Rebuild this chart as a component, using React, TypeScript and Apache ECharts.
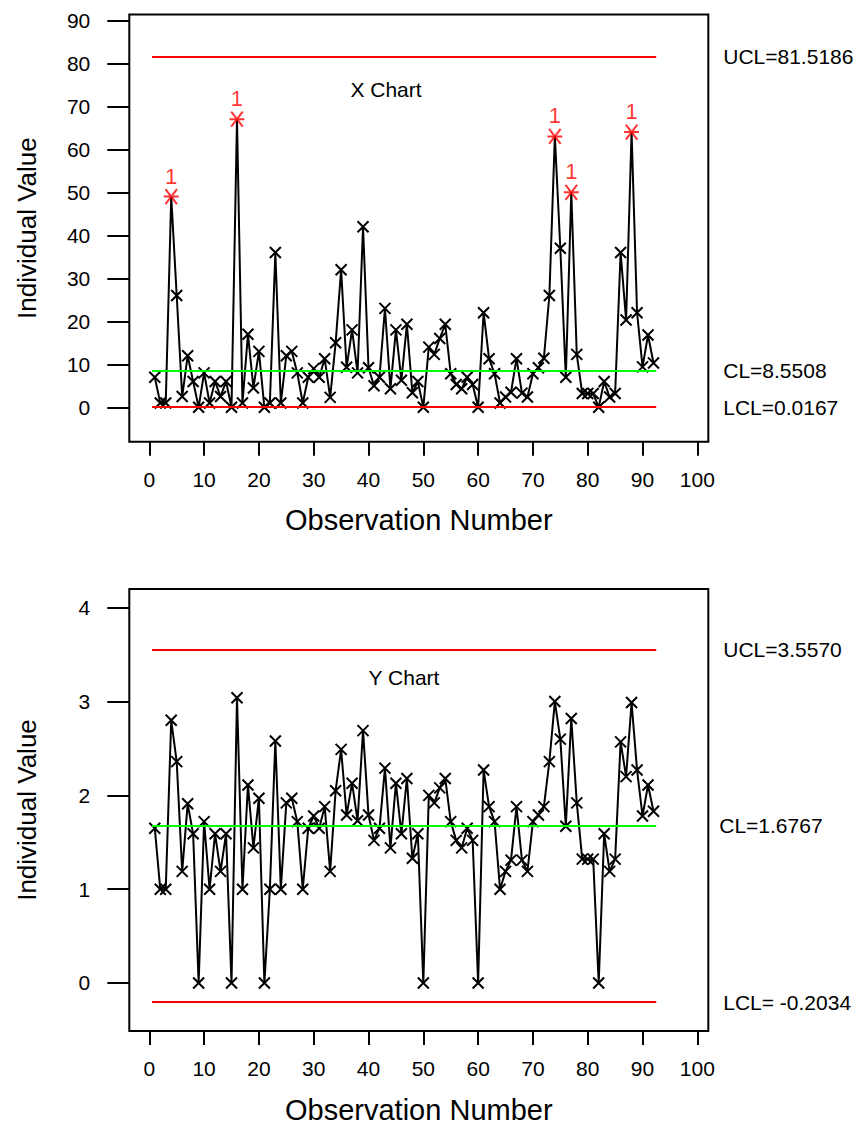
import React, { useEffect, useRef } from "react";
import * as echarts from "echarts";

// ---------- data ----------
const X_VALUES = [
  7, 1, 1, 49, 26, 2.5, 12, 6, 0, 8,
  1, 6, 2.5, 6, 0, 67, 1, 17, 4.5, 13,
  0, 1, 36, 1, 12, 13, 8, 1, 7, 9,
  7, 11.3, 2.3, 15, 32, 9.3, 18, 8, 42, 9.2,
  5, 7, 23, 4.3, 18, 6.3, 19.3, 3.4, 6, 0,
  14, 12.3, 16, 19.3, 7.8, 5.3, 4.3, 7, 5.3, 0,
  22, 11.3, 7.8, 1, 2.4, 3.5, 11.3, 3.3, 2.4, 7.8,
  9.2, 11.4, 26, 63, 37, 7, 50, 12.3, 3.2, 3.2,
  3.2, 0, 6, 2.4, 3.2, 36, 20.3, 64, 22, 9.4,
  16.8, 10.3,
];
const X_FLAGGED = [4, 16, 74, 77, 88];

const Y_VALUES = [
  1.65, 1, 1, 2.8, 2.36, 1.19, 1.91, 1.59, 0, 1.72,
  1, 1.59, 1.19, 1.59, 0, 3.04, 1, 2.11, 1.44, 1.97,
  0, 1, 2.58, 1, 1.92, 1.97, 1.72, 1, 1.65, 1.78,
  1.65, 1.88, 1.19, 2.05, 2.49, 1.79, 2.13, 1.73, 2.69, 1.79,
  1.52, 1.65, 2.29, 1.44, 2.13, 1.59, 2.18, 1.33, 1.59, 0,
  2.0, 1.92, 2.08, 2.18, 1.72, 1.52, 1.44, 1.65, 1.52, 0,
  2.27, 1.88, 1.72, 1, 1.19, 1.31, 1.88, 1.31, 1.19, 1.72,
  1.79, 1.88, 2.36, 3.0, 2.6, 1.67, 2.82, 1.92, 1.32, 1.32,
  1.32, 0, 1.59, 1.19, 1.32, 2.57, 2.2, 2.99, 2.27, 1.78,
  2.11, 1.83,
];

const X_UCL = 81.5186;
const X_CL = 8.5508;
const X_LCL = 0.0167;
const Y_UCL = 3.557;
const Y_CL = 1.6767;
const Y_LCL = -0.2034;

const LIMIT_START = 0.5;
const LIMIT_END = 92.5;

const OBS_TICKS = [0, 10, 20, 30, 40, 50, 60, 70, 80, 90, 100];
const X_CHART_TICKS = [0, 10, 20, 30, 40, 50, 60, 70, 80, 90];
const Y_CHART_TICKS = [0, 1, 2, 3, 4];

const X_LIMIT_LABELS = ["UCL=81.5186", "CL=8.5508", "LCL=0.0167"];
const Y_LIMIT_LABELS = ["UCL=3.5570", "CL=1.6767", "LCL= -0.2034"];

// ---------- styling ----------
const FONT = "Liberation Sans, Arial, sans-serif";
const RED = "#ff0000";
const GREEN = "#00ff00";
const CROSS = "path://M0,0L10,10M10,0L0,10";
const STAR = "path://M0,0L10,10M10,0L0,10M-1.5,5L11.5,5";

function xAxisFor(gridIndex: number) {
  return {
    gridIndex,
    type: "value",
    min: -3.65,
    max: 102,
    axisLine: { show: false, onZero: false },
    splitLine: { show: false },
    axisTick: {
      show: true,
      length: 14,
      customValues: OBS_TICKS,
      lineStyle: { color: "#000", width: 2 },
    },
    axisLabel: {
      customValues: OBS_TICKS,
      margin: 27,
      color: "#000",
      fontSize: 21,
      fontFamily: FONT,
    },
    name: "Observation Number",
    nameLocation: "middle",
    nameGap: 64,
    nameTextStyle: { color: "#000", fontSize: 29, fontFamily: FONT },
  };
}

function yAxisFor(gridIndex: number, min: number, max: number, ticks: number[]) {
  return {
    gridIndex,
    type: "value",
    min,
    max,
    axisLine: { show: false, onZero: false },
    splitLine: { show: false },
    axisTick: {
      show: true,
      length: 22,
      customValues: ticks,
      lineStyle: { color: "#000", width: 2 },
    },
    axisLabel: {
      customValues: ticks,
      margin: 39,
      color: "#000",
      fontSize: 21,
      fontFamily: FONT,
    },
    name: "Individual Value",
    nameLocation: "middle",
    nameGap: 89,
    nameTextStyle: { color: "#000", fontSize: 26, fontFamily: FONT },
  };
}

function limitSeries(
  idx: number,
  ucl: number,
  cl: number,
  lcl: number,
  labels: string[],
  clDistance: number
) {
  const lbl = (text: string, d: number) => ({
    show: true,
    position: "end",
    distance: d,
    formatter: text,
    color: "#000",
    fontSize: 21,
    fontFamily: FONT,
  });
  return {
    type: "line",
    xAxisIndex: idx,
    yAxisIndex: idx,
    data: [],
    z: 1,
    silent: true,
    markLine: {
      silent: true,
      symbol: ["none", "none"],
      animation: false,
      data: [
        [
          { coord: [LIMIT_START, ucl], lineStyle: { color: RED, width: 2, type: "solid" }, label: lbl(labels[0], 67) },
          { coord: [LIMIT_END, ucl] },
        ],
        [
          { coord: [LIMIT_START, cl], lineStyle: { color: GREEN, width: 2, type: "solid" }, label: lbl(labels[1], clDistance) },
          { coord: [LIMIT_END, cl] },
        ],
        [
          { coord: [LIMIT_START, lcl], lineStyle: { color: RED, width: 2, type: "solid" }, label: lbl(labels[2], 67) },
          { coord: [LIMIT_END, lcl] },
        ],
      ],
    },
  };
}

function dataSeries(idx: number, values: number[], flagged: number[]) {
  return {
    type: "line",
    xAxisIndex: idx,
    yAxisIndex: idx,
    z: 3,
    symbol: CROSS,
    symbolSize: 11,
    lineStyle: { color: "#000", width: 2 },
    itemStyle: { color: "#000", borderColor: "#000", borderWidth: 2 },
    data: values.map((v, i) =>
      flagged.includes(i + 1) ? { value: [i + 1, v], symbol: "none" } : [i + 1, v]
    ),
  };
}

function flaggedSeries(idx: number, values: number[], flagged: number[]) {
  return {
    type: "scatter",
    xAxisIndex: idx,
    yAxisIndex: idx,
    z: 4,
    symbol: STAR,
    symbolSize: 15,
    itemStyle: { color: RED, borderColor: RED, borderWidth: 2 },
    label: {
      show: true,
      position: "top",
      distance: 1,
      formatter: "1",
      color: RED,
      fontSize: 22,
      fontFamily: FONT,
    },
    data: flagged.map((n) => [n, values[n - 1]]),
  };
}

export default function App() {
  const ref = useRef<HTMLDivElement>(null);

  useEffect(() => {
    document.body.style.margin = "0";
    if (!ref.current) return;
    const chart = echarts.init(ref.current, null, { renderer: "svg" });
    chart.setOption({
      animation: false,
      backgroundColor: "#ffffff",
      grid: [
        { left: 129.3, top: 14.5, width: 579, height: 427.2, show: true, borderColor: "#000", borderWidth: 2, backgroundColor: "transparent" },
        { left: 129.3, top: 589, width: 579, height: 442, show: true, borderColor: "#000", borderWidth: 2, backgroundColor: "transparent" },
      ],
      xAxis: [xAxisFor(0), xAxisFor(1)],
      yAxis: [
        yAxisFor(0, -8, 91.35, X_CHART_TICKS),
        yAxisFor(1, -0.512, 4.2, Y_CHART_TICKS),
      ],
      graphic: [
        {
          type: "text",
          x: 386,
          y: 89,
          style: { text: "X Chart", align: "center", verticalAlign: "middle", fill: "#000", fontSize: 21, fontFamily: FONT },
        },
        {
          type: "text",
          x: 404,
          y: 677,
          style: { text: "Y Chart", align: "center", verticalAlign: "middle", fill: "#000", fontSize: 21, fontFamily: FONT },
        },
      ],
      series: [
        limitSeries(0, X_UCL, X_CL, X_LCL, X_LIMIT_LABELS, 67),
        dataSeries(0, X_VALUES, X_FLAGGED),
        flaggedSeries(0, X_VALUES, X_FLAGGED),
        limitSeries(1, Y_UCL, Y_CL, Y_LCL, Y_LIMIT_LABELS, 63),
        dataSeries(1, Y_VALUES, []),
      ],
    });
    return () => chart.dispose();
  }, []);

  return <div ref={ref} style={{ width: 861, height: 1135 }} />;
}
